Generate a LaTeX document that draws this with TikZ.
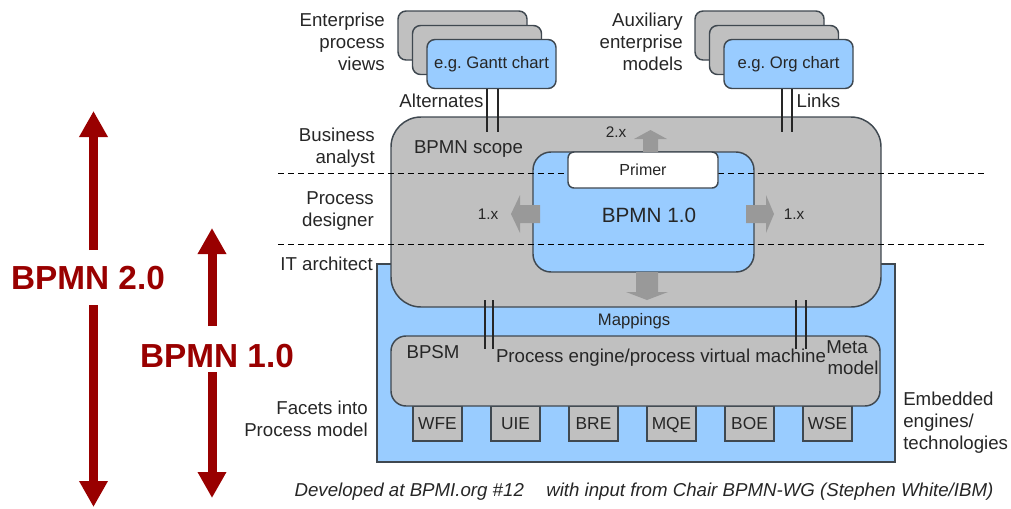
\documentclass[tikz,border=0pt]{standalone}
\usepackage{fontspec}
\setmainfont{Liberation Sans}
\usetikzlibrary{arrows.meta}
\definecolor{bgray}{HTML}{C0C0C0}
\definecolor{bblue}{HTML}{99CCFF}
\definecolor{bline}{HTML}{3F4850}
\definecolor{agray}{HTML}{999999}
\definecolor{dred}{HTML}{990000}
\definecolor{txt}{HTML}{262626}
\frenchspacing
\begin{document}
\begin{tikzpicture}[x=0.75pt,y=-0.75pt,
  bx/.style={draw=bline, line width=1.1pt, inner sep=0pt},
  grayb/.style={bx, fill=bgray},
  blueb/.style={bx, fill=bblue},
  stackb/.style={rounded corners=6pt, minimum width=96.75pt, minimum height=36.75pt},
  engb/.style={grayb, minimum width=36.75pt, minimum height=26.25pt, text height=9.5pt, text depth=0.5pt, font=\fontsize{13}{15}\selectfont, text=txt},
  lbl/.style={font=\fontsize{14}{16.5}\selectfont, text=txt, inner sep=0pt},
  small/.style={font=\fontsize{11.5}{13}\selectfont, text=txt, inner sep=0pt},
  dline/.style={draw=black, line width=0.6pt, dash pattern=on 4.5pt off 3pt},
  pair/.style={draw=txt, line width=0.9pt},
  blockarr/.style={fill=agray, draw=none},
  redarr/.style={draw=dred, line width=6.75pt, -{Triangle[length=19.5pt,width=20.25pt]}},
  redtxt/.style={font=\fontsize{25}{28}\selectfont\bfseries, text=dred, inner sep=0pt}]
\useasboundingbox (0,0) rectangle (1011,508);

% stacked boxes
\node[grayb, stackb] (lb1) at (462.5,35.5) {};
\node[grayb, stackb] (lb2) at (477,50) {};
\node[blueb, stackb, font=\fontsize{12.5}{15}\selectfont, text=txt] (gantt) at (491.5,64) {e.g. Gantt chart};
\node[grayb, stackb] (rb1) at (759.5,35.5) {};
\node[grayb, stackb] (rb2) at (774,50) {};
\node[blueb, stackb, font=\fontsize{12.5}{15}\selectfont, text=txt] (org) at (788.5,64) {e.g. Org chart};

% big blue rectangle and scope box
\node[blueb, minimum width=388.5pt, minimum height=148.5pt] (tech) at (636,363) {};
\node[grayb, rounded corners=22.5pt, minimum width=367.5pt, minimum height=142.5pt] (scope) at (636,212) {};
\node[blueb, rounded corners=13.5pt, minimum width=165.75pt, minimum height=90pt] (bpmn) at (643.5,212) {};

% dashed role separators
\coordinate (d1a) at (278,173); \coordinate (d1b) at (988,173);
\coordinate (d2a) at (278,244); \coordinate (d2b) at (985,244);
\draw[dline] (d1a) -- (d1b);
\draw[dline] (d2a) -- (d2b);

\node[bx, fill=white, rounded corners=4.5pt, minimum width=112.5pt, minimum height=27pt, font=\fontsize{12}{14}\selectfont, text=txt] (primer) at (643,170) {Primer};

% gray block arrows
\fill[blockarr] (643,152) -- (643,139) -- (634,139) -- (650.5,130) -- (667,139) -- (658,139) -- (658,152) -- cycle;
\fill[blockarr] (636,272) -- (636,292) -- (626,292) -- (647,300) -- (668,292) -- (658,292) -- (658,272) -- cycle;
\fill[blockarr] (540,205) -- (520,205) -- (520,195) -- (511,214) -- (520,233) -- (520,223) -- (540,223) -- cycle;
\fill[blockarr] (746,205) -- (766,205) -- (766,195) -- (774,214) -- (766,233) -- (766,223) -- (746,223) -- cycle;

% engines
\node[engb] (wfe) at (437.5,423.5) {WFE};
\node[engb] (uie) at (515.5,423.5) {UIE};
\node[engb] (bre) at (593.5,423.5) {BRE};
\node[engb] (mqe) at (671.5,423.5) {MQE};
\node[engb] (boe) at (749.5,423.5) {BOE};
\node[engb] (wse) at (827.5,423.5) {WSE};

% BPSM box
\node[grayb, rounded corners=11.25pt, minimum width=366.75pt, minimum height=52.5pt] (bpsm) at (635.5,371) {};

% double lines
\coordinate (a1) at (487,132); \coordinate (a2) at (498,132);
\coordinate (l1) at (782,132); \coordinate (l2) at (792,132);
\draw[pair] (gantt.south -| a1) -- (a1);
\draw[pair] (gantt.south -| a2) -- (a2);
\draw[pair] (org.south -| l1) -- (l1);
\draw[pair] (org.south -| l2) -- (l2);
\coordinate (m1t) at (485,300); \coordinate (m1b) at (485,349);
\coordinate (m2t) at (493,300); \coordinate (m2b) at (493,349);
\coordinate (m3t) at (796,300); \coordinate (m3b) at (796,349);
\coordinate (m4t) at (806,300); \coordinate (m4b) at (806,349);
\draw[pair] (m1t) -- (m1b);
\draw[pair] (m2t) -- (m2b);
\draw[pair] (m3t) -- (m3b);
\draw[pair] (m4t) -- (m4b);

% texts
\node[lbl, align=right, anchor=east] (epv) at (385,42) {Enterprise\\process\\views};
\node[lbl, align=right, anchor=east] (aem) at (683,42) {Auxiliary\\enterprise\\models};
\node[lbl] (alt) at (441.5,101) {Alternates};
\node[lbl] (links) at (818.5,101) {Links};
\node[lbl, align=right, anchor=east] (ba) at (375,147.5) {Business\\analyst};
\node[lbl, align=right, anchor=east] (pd) at (374,211) {Process\\designer};
\node[lbl, anchor=east] (ita) at (373,264) {IT architect};
\node[lbl, align=right, anchor=east] (fac) at (368,418.5) {Facets into\\Process model};
\node[lbl, align=left, anchor=west] (emb) at (903,423) {Embedded\\engines/\\technologies};
\node[lbl] (scopet) at (468.5,149) {BPMN scope};
\node[small] (t2x) at (616,132) {2.x};
\node[small] (t1l) at (488,214) {1.x};
\node[small] (t1r) at (794,214) {1.x};
\node[font=\fontsize{15.5}{18}\selectfont, text=txt, inner sep=0pt] (bpmnt) at (649,215) {BPMN 1.0};
\node[font=\fontsize{12.5}{15}\selectfont, text=txt, inner sep=0pt] (map) at (634,321) {Mappings};
\node[lbl] (bpsmt) at (433,352) {BPSM};
\node[lbl] (pe) at (661,358) {Process engine/process virtual machine};
\node[lbl, align=left, anchor=west, font=\fontsize{14}{15.75}\selectfont] (meta) at (826,357.5) {Meta\\\hspace*{1pt}model};
\node[lbl, font=\fontsize{14}{16.5}\selectfont\itshape] (cap) at (644,492) {Developed at BPMI.org \#12\hspace{1.2em}with input from Chair BPMN-WG (Stephen White/IBM)};

% red version arrows
\node[redtxt] (v2) at (88,278) {BPMN 2.0};
\node[redtxt] (v1) at (217,356) {BPMN 1.0};
\coordinate (r2a) at (93.5,250); \coordinate (r2t) at (93.5,111);
\coordinate (r2b) at (93.5,305); \coordinate (r2u) at (93.5,507);
\coordinate (r1a) at (212,326); \coordinate (r1t) at (212,228);
\coordinate (r1b) at (212,372); \coordinate (r1u) at (212,498);
\draw[redarr] (r2a) -- (r2t);
\draw[redarr] (r2b) -- (r2u);
\draw[redarr] (r1a) -- (r1t);
\draw[redarr] (r1b) -- (r1u);
\end{tikzpicture}
\end{document}
